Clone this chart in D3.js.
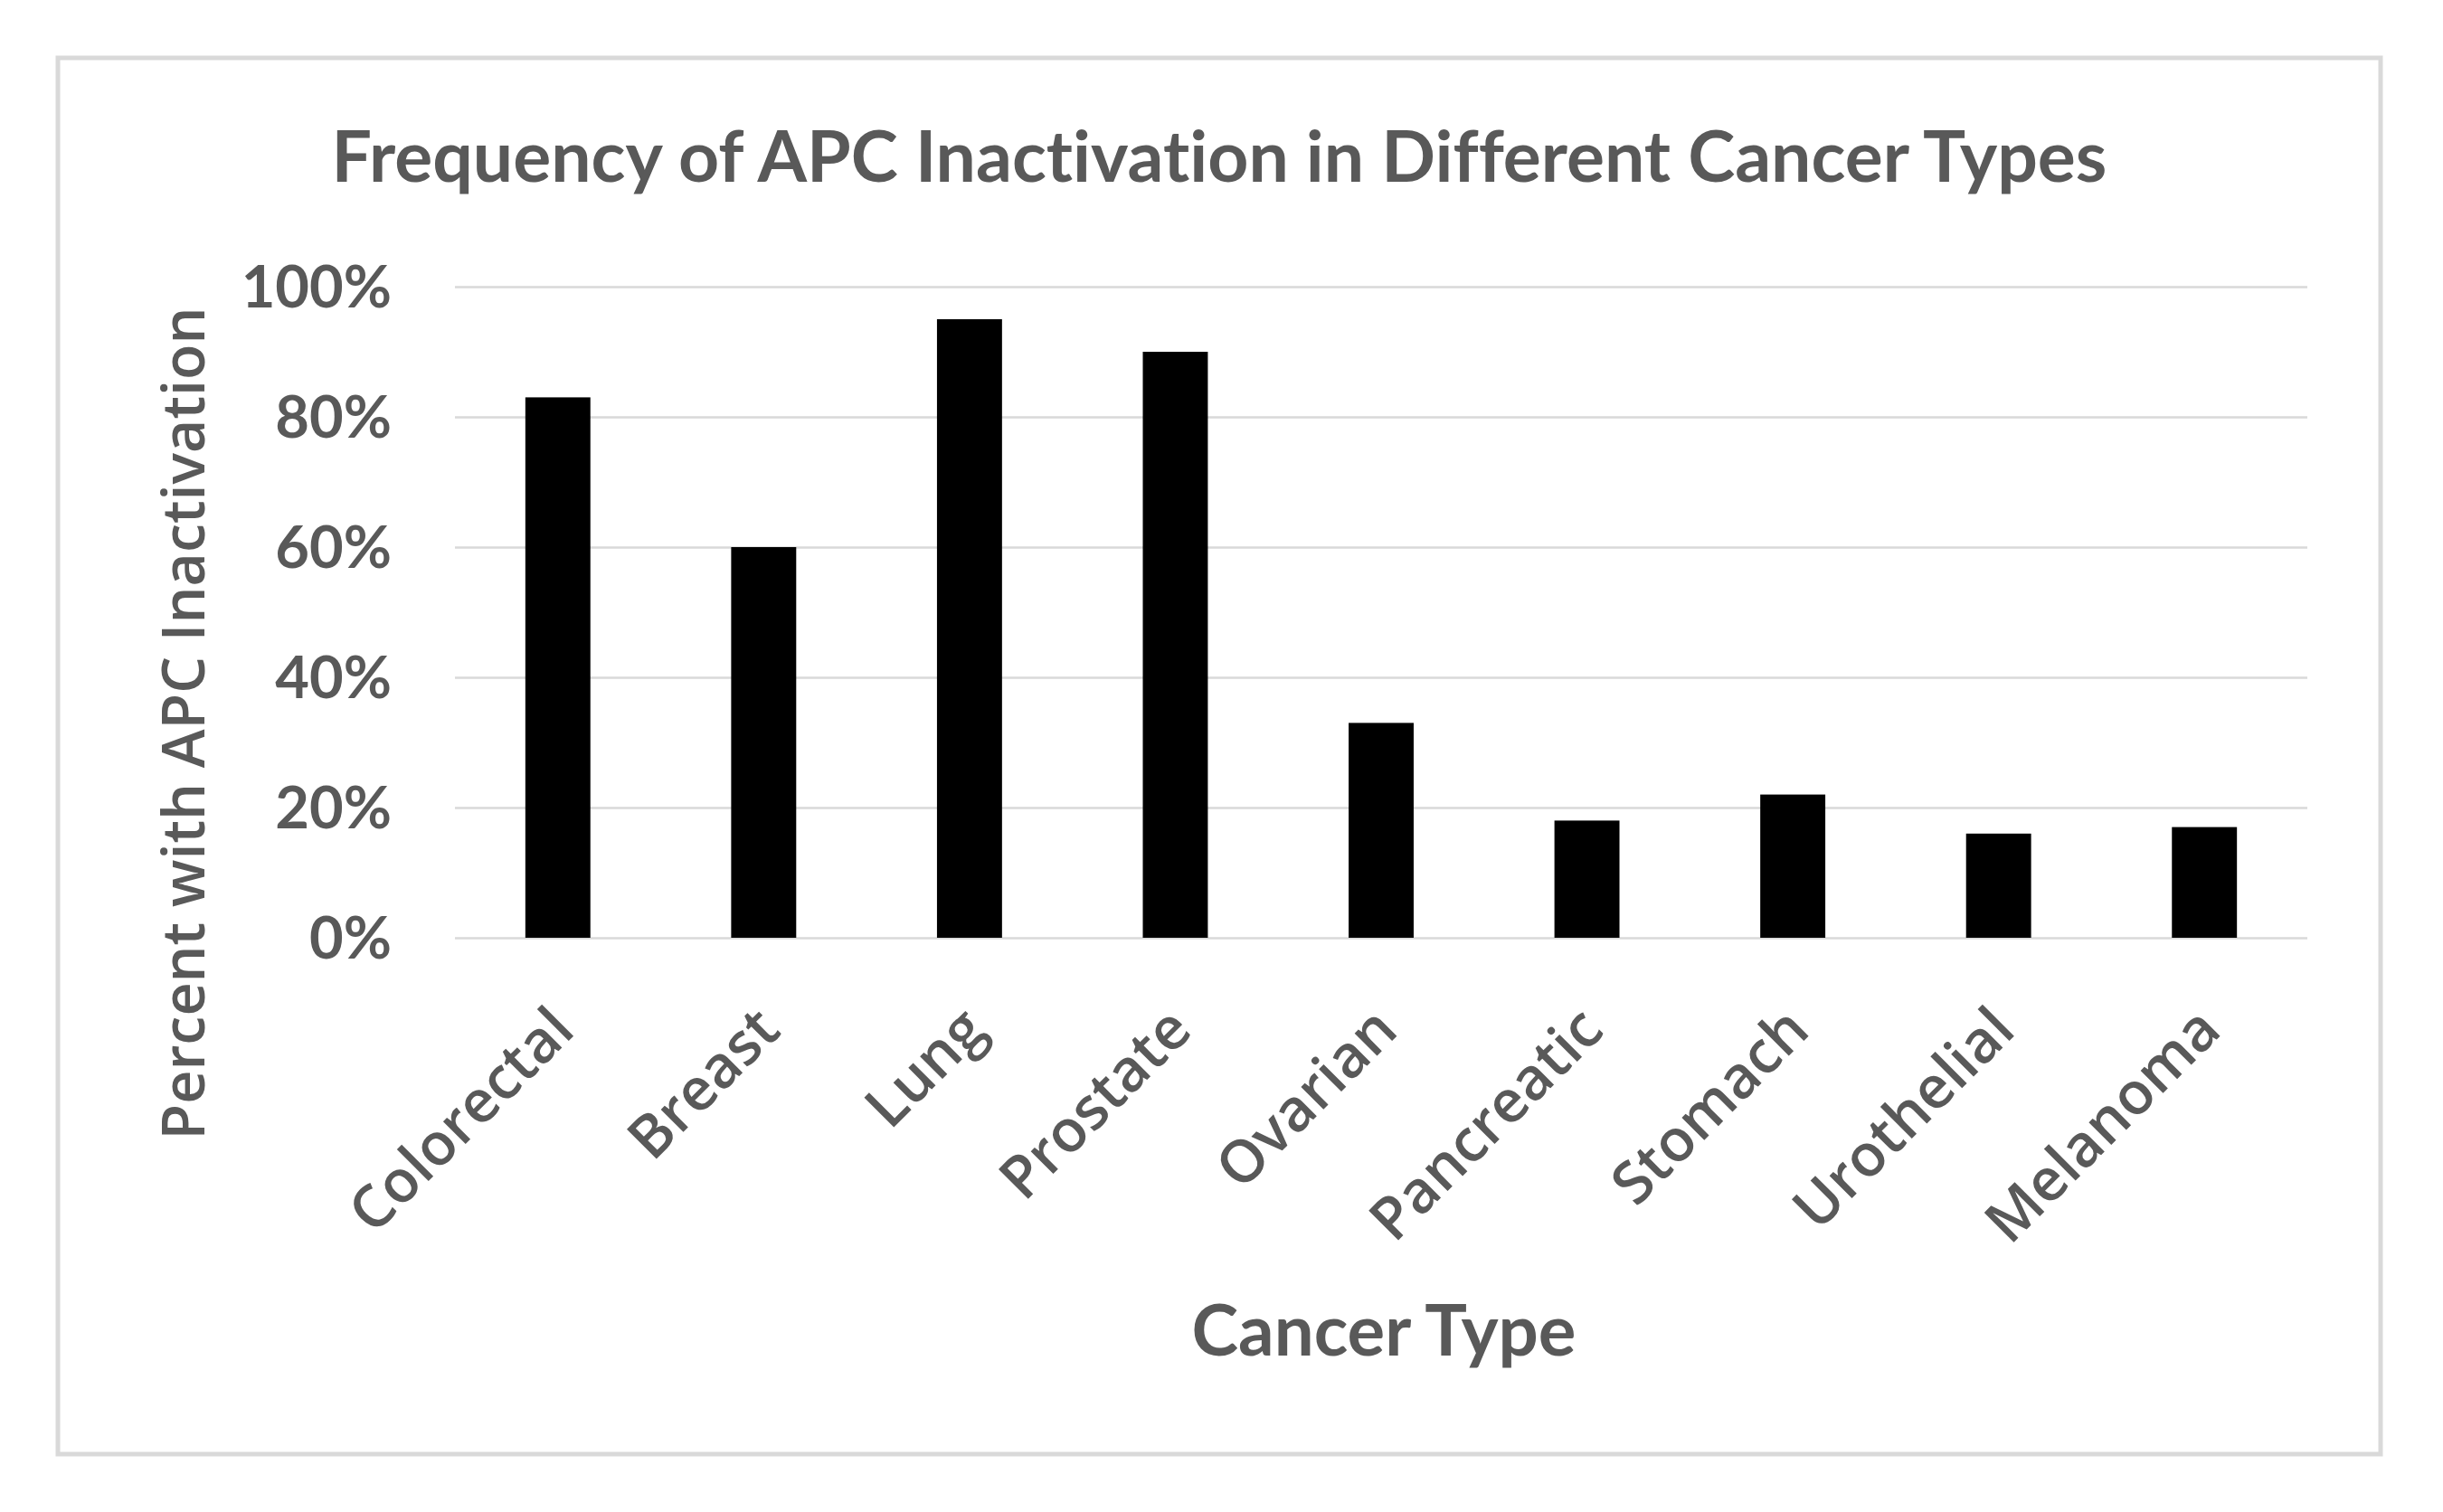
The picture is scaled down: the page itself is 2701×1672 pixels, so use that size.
<!DOCTYPE html>
<html>
<head>
<meta charset="utf-8">
<script src="https://cdn.jsdelivr.net/npm/d3@7/dist/d3.min.js"></script>
<style>
  html, body { margin: 0; padding: 0; background: #ffffff; }
  svg { display: block; }
  text { font-variant-ligatures: none; }
</style>
</head>
<body>
<svg id="chart" width="2701" height="1672"></svg>
<script>
// ---- data ----
const categories = ["Colorectal", "Breast", "Lung", "Prostate", "Ovarian", "Pancreatic", "Stomach", "Urothelial", "Melanoma"];
const values = [0.83, 0.60, 0.95, 0.90, 0.33, 0.18, 0.22, 0.16, 0.17];
const yTicks = [0, 0.2, 0.4, 0.6, 0.8, 1.0];
const titleText = "Frequency of APC Inactivation in Different Cancer Types";
const xTitleText = "Cancer Type";
const yTitleText = "Percent with APC Inactivation";

// ---- layout ----
const plot = { left: 503, right: 2551, top: 317, bottom: 1037 };
const grey = "#595959";

const svg = d3.select("#chart");

// chart frame
svg.append("rect")
  .attr("x", 64).attr("y", 64)
  .attr("width", 2568).attr("height", 1544)
  .attr("fill", "#ffffff")
  .attr("stroke", "#d9d9d9")
  .attr("stroke-width", 5);

const x = d3.scaleBand()
  .domain(categories)
  .range([plot.left, plot.right])
  .paddingInner(0.684)
  .paddingOuter(0.342);

const y = d3.scaleLinear()
  .domain([0, 1])
  .range([plot.bottom, plot.top]);

// gridlines
const grid = svg.append("g")
  .attr("transform", `translate(${plot.left},0)`)
  .call(d3.axisLeft(y).tickValues(yTicks).tickSize(-(plot.right - plot.left)).tickFormat(""));
grid.select(".domain").remove();
grid.selectAll(".tick line").attr("stroke", "#d9d9d9").attr("stroke-width", 2.5);

// y tick labels
const yAxis = svg.append("g")
  .attr("transform", `translate(433,0)`)
  .call(d3.axisLeft(y).tickValues(yTicks).tickSize(0).tickPadding(0).tickFormat(d3.format(".0%")));
yAxis.select(".domain").remove();
yAxis.selectAll("text")
  .attr("fill", grey)
  .attr("font-family", "Lato, 'Liberation Sans', sans-serif")
  .attr("font-weight", 700)
  .attr("font-size", 65)
  .attr("dy", "0.34em");

// bars
svg.append("g").selectAll("rect")
  .data(categories)
  .join("rect")
  .attr("x", d => x(d))
  .attr("width", x.bandwidth())
  .attr("y", (d, i) => y(values[i]))
  .attr("height", (d, i) => y(0) - y(values[i]))
  .attr("fill", "#000000");

// category labels (rotated)
const xAxis = svg.append("g")
  .attr("transform", `translate(0,${plot.bottom})`)
  .call(d3.axisBottom(x).tickSize(0).tickPadding(0));
xAxis.select(".domain").remove();
xAxis.selectAll("text")
  .attr("fill", grey)
  .attr("font-family", "'Open Sans', 'Noto Sans', sans-serif")
  .attr("font-weight", 600)
  .attr("font-size", 65)
  .attr("text-anchor", "end")
  .attr("dy", 0)
  .attr("y", 0)
  .attr("transform", "translate(21,105) rotate(-45)");

// helper: fit text width
function fit(sel, target) {
  const len = sel.node().getComputedTextLength();
  const fs = parseFloat(sel.attr("font-size"));
  if (len > 0) sel.attr("font-size", fs * target / len);
}

// title
const title = svg.append("text")
  .attr("x", 1348).attr("y", 201)
  .attr("text-anchor", "middle")
  .attr("fill", grey)
  .attr("font-family", "Lato, 'Liberation Sans', sans-serif")
  .attr("font-weight", 700)
  .attr("font-size", 75)
  .text(titleText);
fit(title, 1963);

// x axis title
const xTitle = svg.append("text")
  .attr("x", 1530).attr("y", 1499)
  .attr("text-anchor", "middle")
  .attr("fill", grey)
  .attr("font-family", "Lato, 'Liberation Sans', sans-serif")
  .attr("font-weight", 700)
  .attr("font-size", 78)
  .text(xTitleText);
fit(xTitle, 425);

// y axis title
const yTitle = svg.append("text")
  .attr("transform", "translate(226,800) rotate(-90)")
  .attr("text-anchor", "middle")
  .attr("fill", grey)
  .attr("font-family", "'Open Sans', 'Noto Sans', sans-serif")
  .attr("font-weight", 600)
  .attr("font-size", 66)
  .text(yTitleText);
fit(yTitle, 921);
</script>
</body>
</html>
